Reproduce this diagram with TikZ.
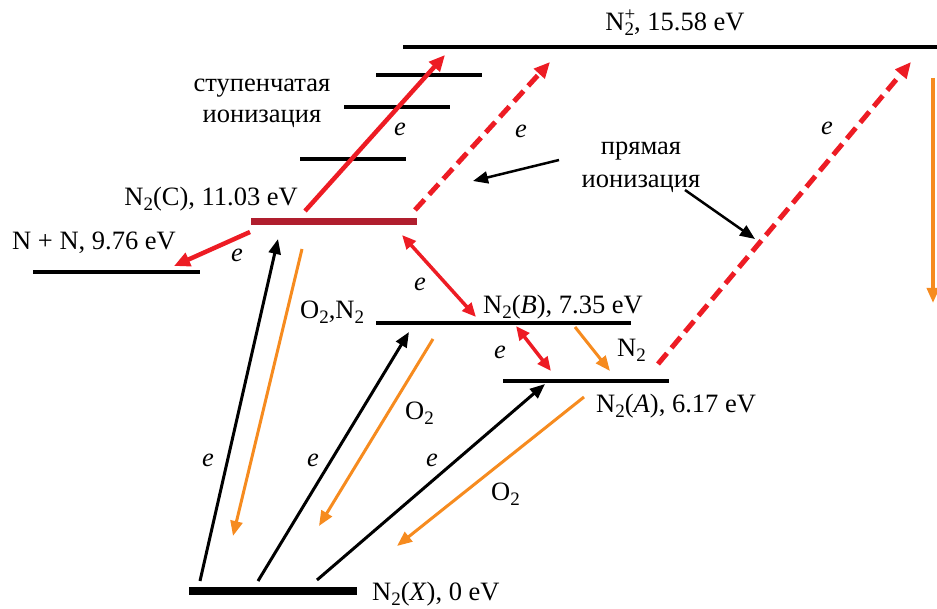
\documentclass[tikz,border=0pt]{standalone}
\usepackage{fontspec}
\setmainfont{Liberation Serif}
\usetikzlibrary{arrows.meta}
\definecolor{rd}{HTML}{ED1C24}
\definecolor{drd}{HTML}{B01E2E}
\definecolor{org}{HTML}{F68B1F}
\newcommand{\subtwo}{\raisebox{-5pt}{\fontsize{19}{19}\selectfont 2}}
\newcommand{\supplus}{\raisebox{10.5pt}{\fontsize{19}{19}\selectfont +}}
\begin{document}
\begin{tikzpicture}[x=1pt,y=-1pt,
  lvl/.style={line width=4pt},
  lbl/.style={font=\fontsize{26.5}{31}\selectfont, inner sep=0pt},
  el/.style={font=\fontsize{26.5}{31}\selectfont\itshape, inner sep=0pt},
  redarr/.style={draw=rd, line width=4.5pt, -{Triangle[length=16pt,width=14pt]}},
  redboth/.style={draw=rd, line width=3.5pt, {Triangle[length=14pt,width=12pt]}-{Triangle[length=14pt,width=12pt]}},
  reddash/.style={draw=rd, line width=5pt, dash pattern=on 14pt off 7pt, -{Triangle[length=16pt,width=14pt]}},
  blkarr/.style={draw=black, line width=3pt, -{Triangle[length=15pt,width=12pt]}},
  annarr/.style={draw=black, line width=2.5pt, -{Triangle[length=15pt,width=12pt]}},
  orarr/.style={draw=org, line width=3pt, -{Triangle[length=15pt,width=12pt]}},
]
\useasboundingbox (0,0) rectangle (937,609);

% levels
\coordinate (ionL) at (403,47); \coordinate (ionR) at (937,47);
\coordinate (s1L) at (376,75); \coordinate (s1R) at (482,75);
\coordinate (s2L) at (344,107); \coordinate (s2R) at (450,107);
\coordinate (s3L) at (300,159); \coordinate (s3R) at (406,159);
\coordinate (cL) at (251,222); \coordinate (cR) at (417,222);
\coordinate (nnL) at (33,272); \coordinate (nnR) at (200,272);
\coordinate (bL) at (376,323); \coordinate (bR) at (631,323);
\coordinate (aL) at (503,381); \coordinate (aR) at (669,381);
\coordinate (xL) at (189,591); \coordinate (xR) at (357,591);

\draw[lvl] (ionL) -- (ionR);
\draw[lvl] (s1L) -- (s1R);
\draw[lvl] (s2L) -- (s2R);
\draw[lvl] (s3L) -- (s3R);
\draw[line width=7pt, drd] (cL) -- (cR);
\draw[lvl] (nnL) -- (nnR);
\draw[lvl] (bL) -- (bR);
\draw[lvl] (aL) -- (aR);
\draw[line width=7.5pt] (xL) -- (xR);

% labels
\node[lbl, anchor=base] (lion) at (675,31) {N\rlap{\supplus}\subtwo, 15.58 eV};
\node[lbl, anchor=base] (lst1) at (262,92) {ступенчатая};
\node[lbl, anchor=base] (lst2) at (262,123) {ионизация};
\node[lbl, anchor=base east] (lc) at (298,206) {N\subtwo(C), 11.03 eV};
\node[lbl, anchor=base west] (lnn) at (12,250) {N + N, 9.76 eV};
\node[lbl, anchor=base west] (lon) at (300,319) {O\subtwo,N\subtwo};
\node[lbl, anchor=base west] (lb) at (483,314) {N\subtwo(\textit{B}), 7.35 eV};
\node[lbl, anchor=base west] (ln2) at (617,357) {N\subtwo};
\node[lbl, anchor=base west] (la) at (596,413) {N\subtwo(\textit{A}), 6.17 eV};
\node[lbl, anchor=base west] (lo1) at (405,420) {O\subtwo};
\node[lbl, anchor=base west] (lo2) at (491,500) {O\subtwo};
\node[lbl, anchor=base west] (lx) at (372,600) {N\subtwo(\textit{X}), 0 eV};
\node[lbl, anchor=base] (lpr1) at (641,155) {прямая};
\node[lbl, anchor=base] (lpr2) at (641,188) {ионизация};

% e labels
\node[el] (e1) at (400,129) {e};
\node[el] (e2) at (521,131) {e};
\node[el] (e3) at (827,128) {e};
\node[el] (e4) at (237,255) {e};
\node[el] (e5) at (420,284) {e};
\node[el] (e6) at (500,352) {e};
\node[el] (e7) at (208,460) {e};
\node[el] (e8) at (313,460) {e};
\node[el] (e9) at (432,460) {e};

% arrow end points
\coordinate (stS) at (305,211); \coordinate (stE) at (445,55);
\coordinate (cnS) at (250,232); \coordinate (cnE) at (174,266);
\coordinate (cbS) at (402,235); \coordinate (cbE) at (476,317);
\coordinate (baS) at (516,326); \coordinate (baE) at (551,371);
\coordinate (d1S) at (415,210); \coordinate (d1E) at (550,62);
\coordinate (d2S) at (658,364); \coordinate (d2E) at (911,62);
\coordinate (x1S) at (200,581); \coordinate (x1E) at (278,239);
\coordinate (x2S) at (258,581); \coordinate (x2E) at (409,332);
\coordinate (x3S) at (317,580); \coordinate (x3E) at (545,384);
\coordinate (o1S) at (302,249); \coordinate (o1E) at (233,536);
\coordinate (o2S) at (433,339); \coordinate (o2E) at (319,526);
\coordinate (o3S) at (584,397); \coordinate (o3E) at (397,546);
\coordinate (o4S) at (575,327); \coordinate (o4E) at (610,371);
\coordinate (o5S) at (933,78); \coordinate (o5E) at (933,303);
\coordinate (p1S) at (559,160); \coordinate (p1E) at (473,181);
\coordinate (p2S) at (685,190); \coordinate (p2E) at (755,239);

% black excitation arrows
\draw[blkarr] (x1S) -- (x1E);
\draw[blkarr] (x2S) -- (x2E);
\draw[blkarr] (x3S) -- (x3E);

% orange arrows
\draw[orarr] (o1S) -- (o1E);
\draw[orarr] (o2S) -- (o2E);
\draw[orarr] (o3S) -- (o3E);
\draw[orarr] (o4S) -- (o4E);
\draw[orarr, line width=3.5pt] (o5S) -- (o5E);

% red arrows
\draw[redarr] (stS) -- (stE);
\draw[redarr] (cnS) -- (cnE);
\draw[redboth] (cbS) -- (cbE);
\draw[redboth] (baS) -- (baE);
\draw[reddash] (d1S) -- (d1E);
\draw[reddash] (d2S) -- (d2E);

% annotation arrows
\draw[annarr] (p1S) -- (p1E);
\draw[annarr] (p2S) -- (p2E);
\end{tikzpicture}
\end{document}
